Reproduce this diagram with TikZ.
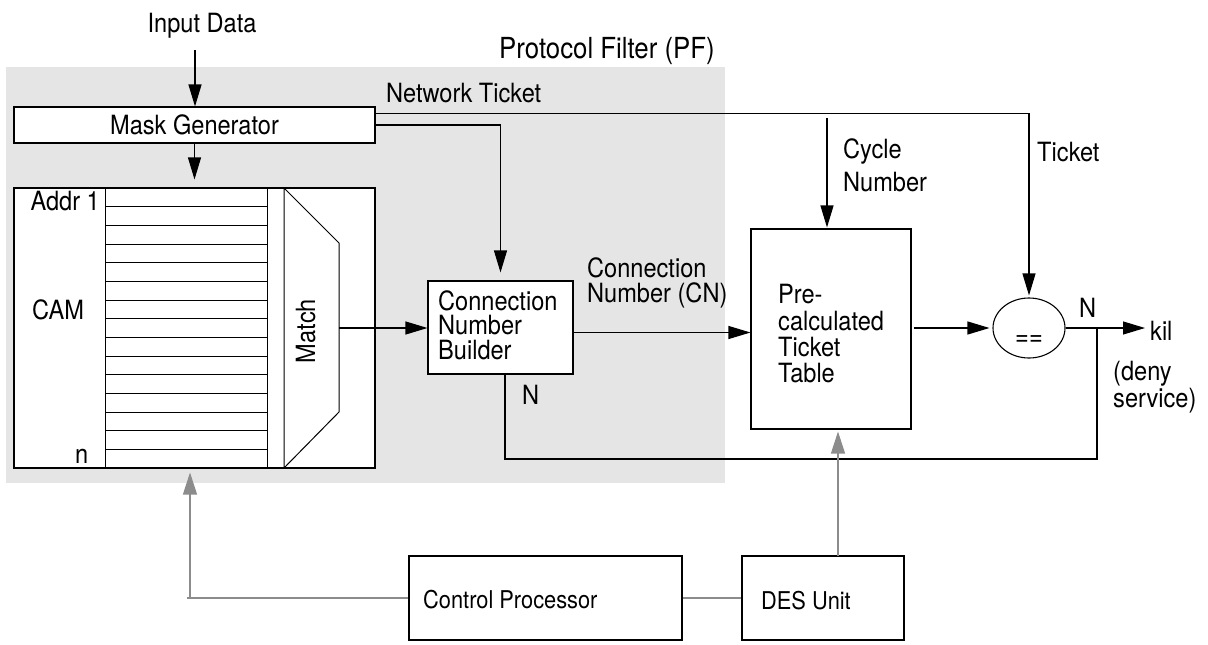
\documentclass[tikz,border=0pt]{standalone}
\usepackage{fontspec}
\setmainfont[FakeStretch=0.89]{TeX Gyre Heros}
\usetikzlibrary{arrows.meta,shapes.geometric,calc}
\definecolor{pfgray}{HTML}{E5E5E5}
\definecolor{lngray}{HTML}{8C8C8C}
\begin{document}
\begin{tikzpicture}[x=1pt,y=-1pt,
  box/.style={draw,line width=1.1pt,fill=white,rectangle,inner sep=0pt},
  txt/.style={inner sep=0pt,anchor=base west,font=\fontsize{26.5}{30}\selectfont},
  stxt/.style={inner sep=0pt,anchor=base west,font=\fontsize{24.5}{28}\selectfont},
  ln/.style={line width=1.1pt},
  arr/.style={line width=1.1pt,-{Triangle[length=22pt,width=13pt]}},
  garr/.style={line width=1.2pt,draw=lngray,-{Triangle[length=22pt,width=14pt,fill=lngray]}},
  gthick/.style={line width=2.2pt,draw=lngray}]
\useasboundingbox (0,0) rectangle (1208,645);
% protocol filter background
\node[fill=pfgray,inner sep=0pt,minimum width=719pt,minimum height=416pt] (pf) at (365.5,275) {};
\node[inner sep=0pt,anchor=base west,font=\fontsize{29}{32}\selectfont] (pflbl) at (499,58) {Protocol Filter (PF)};
% boxes
\node[box,minimum width=361pt,minimum height=36pt] (mask) at (194.5,125) {};
\node[box,minimum width=361pt,minimum height=280pt] (cam) at (194.5,328) {};
\node[box,minimum width=145pt,minimum height=93pt] (cnb) at (500.5,327.5) {};
\node[box,minimum width=160pt,minimum height=200pt] (pre) at (831,329) {};
\node[draw,ellipse,line width=1.1pt,fill=white,inner sep=0pt,minimum width=72pt,minimum height=60pt] (eq) at (1029,328) {};
\node[box,minimum width=273pt,minimum height=84pt] (cp) at (545.5,598) {};
\node[box,minimum width=162pt,minimum height=84pt] (des) at (823,598) {};
% CAM rows
\draw[line width=1pt] (105,188) -- (105,468) (267,188) -- (267,468);
\foreach \k in {1,...,14} \draw[line width=1pt] (105,{188+\k*280/15}) -- (267,{188+\k*280/15});
% match trapezoid
\draw[line width=1pt] (284,188) -- (339,243) -- (339,412) -- (284,468) -- cycle;
\node[inner sep=0pt,anchor=base,rotate=90,font=\fontsize{26.5}{30}\selectfont] (match) at (315,331) {Match};
% texts
\node[inner sep=0pt,anchor=base,font=\fontsize{26.5}{30}\selectfont] (indata) at (202,32) {Input Data};
\node[inner sep=0pt,anchor=base,font=\fontsize{26.5}{30}\selectfont] (masktxt) at (194.5,134) {Mask Generator};
\node[txt] (nettick) at (386,102) {Network Ticket};
\node[txt,anchor=base east] (addr) at (100,210) {Addr 1};
\node[txt] (camtxt) at (32,319) {CAM};
\node[txt] (ntxt) at (75,463) {n};
\node[txt] (cnb1) at (438,310) {Connection};
\node[txt] (cnb2) at (438,334.5) {Number};
\node[txt] (cnb3) at (438,359) {Builder};
\node[txt] (cn1) at (587,277) {Connection};
\node[txt] (cn2) at (587,302) {Number (CN)};
\node[txt] (cyc1) at (843,158) {Cycle};
\node[txt] (cyc2) at (843,191) {Number};
\node[txt] (tick) at (1037,161) {Ticket};
\node[txt] (pre1) at (778,303) {Pre-};
\node[txt] (pre2) at (778,330) {calculated};
\node[txt] (pre3) at (778,356) {Ticket};
\node[txt] (pre4) at (778,382) {Table};
\node[inner sep=0pt,anchor=base,font=\fontsize{26.5}{30}\selectfont] (eqtxt) at (1029,345) {==};
\node[txt] (nout) at (1079,317) {N};
\node[txt] (kil) at (1150,340) {kil};
\node[txt] (deny1) at (1113,380) {(deny};
\node[txt] (deny2) at (1113,407) {service)};
\node[txt] (ncnb) at (522,404) {N};
\node[stxt] (cptxt) at (423,608) {Control Processor};
\node[stxt] (destxt) at (761,609) {DES Unit};
% connectors
\coordinate (in) at (195,50);
\draw[arr] (in) -- (in |- mask.north);
\draw[arr,shorten >=8pt] (mask.south) -- (cam.north);
\coordinate (nt) at ($(mask.north east)!0.2!(mask.south east)$);
\draw[arr,shorten >=2pt] (nt) -| (eq.north);
\draw[arr,shorten >=8pt] (mask.east) -| (cnb.north);
\coordinate (cyc) at (827,118);
\draw[arr,shorten >=1pt] (cyc) -- (cyc |- pre.north);
\coordinate (mo) at (339,328);
\draw[arr] (mo) -- (mo -| cnb.west);
\coordinate (cno) at ([yshift=-5pt]cnb.east);
\draw[arr] (cno) -- (cno -| pre.west);
\draw[arr,shorten <=2pt,shorten >=3pt] (pre.east |- eq.west) -- (eq.west);
\draw[arr,shorten >=5pt] (eq.east) -- (eq.east -| kil.west);
\coordinate (fb) at (1097,328);
\coordinate (fb2) at (505,459);
\draw[ln] (fb) |- (fb2) -- (fb2 |- cnb.south);
% gray control paths
\coordinate (gc) at (190,598);
\draw[gthick] (cp.west) -- ([xshift=-3pt]gc);
\draw[garr,shorten >=4pt] (gc) -- (gc |- cam.south);
\draw[gthick] (cp.east) -- (des.west);
\coordinate (dn) at (838,556);
\draw[garr,shorten >=2pt] (dn) -- (dn |- pre.south);
\end{tikzpicture}
\end{document}
